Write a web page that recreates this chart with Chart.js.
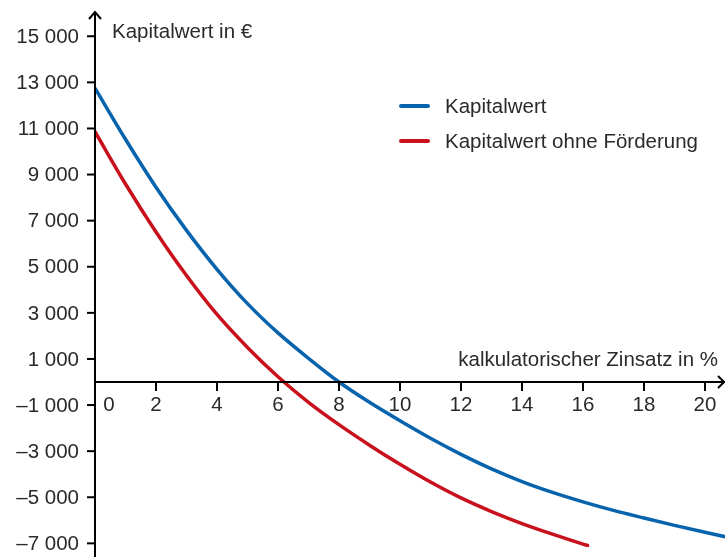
<!DOCTYPE html>
<html>
<head>
<meta charset="utf-8">
<script src="https://cdn.jsdelivr.net/npm/chart.js@4/dist/chart.umd.min.js"></script>
<style>
html,body{margin:0;padding:0;background:#fff;}
#wrap{width:725px;height:557px;position:relative;}
</style>
</head>
<body>
<div id="wrap"><canvas id="c" width="725" height="557"></canvas></div>
<script>
// ---- data ----
const ratesBlue = [0,1,2,3,4,5,6,7,8,9,10,11,12,13,14,15,16,17,18,19,20,20.66];
const kapitalwert = [12750,10530,8450,6580,4890,3400,2130,1030,0,-880,-1680,-2440,-3140,-3770,-4320,-4790,-5200,-5570,-5900,-6220,-6520,-6710];
const ratesRed = [0,1,2,3,4,5,6,7,8,9,10,11,12,13,14,15,16,16.15];
const kapitalwertOhne = [10860,8590,6510,4620,2930,1500,230,-880,-1850,-2740,-3570,-4340,-5030,-5620,-6140,-6600,-7030,-7090];
const xTicks = [2,4,6,8,10,12,14,16,18,20];
const yTicks = [-7000,-5000,-3000,-1000,1000,3000,5000,7000,9000,11000,13000,15000];
const seriesNames = ['Kapitalwert','Kapitalwert ohne Förderung'];
const xTitle = 'kalkulatorischer Zinsatz in %';
const yTitle = 'Kapitalwert in €';

const BLUE = '#0863ad';
const RED = '#c8111c';
const INK = '#2a2a2a';
const FONT = '20.5px "Liberation Sans", Arial, sans-serif';

function fmt(v){
  const a = Math.abs(v);
  let s = String(a);
  if (a >= 1000) s = s.slice(0, s.length-3) + ' ' + s.slice(-3);
  return (v < 0 ? '\u2013' : '') + s;
}

const axesPlugin = {
  id: 'axesPlugin',
  afterDraw(chart){
    const ctx = chart.ctx;
    const xs = chart.scales.x, ys = chart.scales.y;
    const x0 = xs.getPixelForValue(0);
    const y0 = ys.getPixelForValue(0);
    const W = chart.width, H = chart.height;
    ctx.save();
    ctx.strokeStyle = '#000';
    ctx.lineWidth = 2;
    ctx.lineCap = 'butt';
    // y axis
    ctx.beginPath();
    ctx.moveTo(x0, 12); ctx.lineTo(x0, H);
    ctx.stroke();
    ctx.beginPath();
    ctx.moveTo(x0-6, 19); ctx.lineTo(x0, 12); ctx.lineTo(x0+6, 19);
    ctx.stroke();
    // x axis
    ctx.beginPath();
    ctx.moveTo(x0, y0); ctx.lineTo(W, y0);
    ctx.stroke();
    ctx.beginPath();
    ctx.moveTo(W-7, y0-6); ctx.lineTo(W-1, y0); ctx.lineTo(W-7, y0+6);
    ctx.stroke();
    // ticks
    ctx.fillStyle = INK;
    ctx.font = FONT;
    ctx.textBaseline = 'middle';
    ctx.textAlign = 'right';
    yTicks.forEach(v => {
      const py = ys.getPixelForValue(v);
      ctx.beginPath(); ctx.moveTo(x0-8, py); ctx.lineTo(x0, py); ctx.stroke();
      ctx.fillText(fmt(v), x0-16, py+1);
    });
    ctx.textAlign = 'center';
    xTicks.forEach(v => {
      const px = xs.getPixelForValue(v);
      ctx.beginPath(); ctx.moveTo(px, y0); ctx.lineTo(px, y0+9); ctx.stroke();
      ctx.fillText(String(v), px, y0+23);
    });
    ctx.fillText('0', x0+14, y0+23);
    // axis titles
    ctx.textAlign = 'left';
    ctx.fillText(yTitle, x0+17, 32);
    ctx.textAlign = 'right';
    ctx.fillText(xTitle, 718, y0-22);
    // legend
    const leg = [[seriesNames[0], BLUE, 106],[seriesNames[1], RED, 141]];
    ctx.textAlign = 'left';
    leg.forEach(([name,col,y]) => {
      ctx.strokeStyle = col; ctx.lineWidth = 4; ctx.lineCap = 'round';
      ctx.beginPath(); ctx.moveTo(401, y); ctx.lineTo(428, y); ctx.stroke();
      ctx.fillStyle = INK;
      ctx.fillText(name, 445, y+1);
    });
    ctx.restore();
  }
};

new Chart(document.getElementById('c'), {
  type: 'line',
  data: {
    datasets: [
      { label: seriesNames[0], data: ratesBlue.map((r,i)=>({x:r,y:kapitalwert[i]})),
        borderColor: BLUE, borderWidth: 3.5, pointRadius: 0, cubicInterpolationMode: 'monotone', fill: false },
      { label: seriesNames[1], data: ratesRed.map((r,i)=>({x:r,y:kapitalwertOhne[i]})),
        borderColor: RED, borderWidth: 3.5, pointRadius: 0, cubicInterpolationMode: 'monotone', fill: false, borderCapStyle: 'round' }
    ]
  },
  options: {
    responsive: false,
    animation: false,
    layout: { padding: { left: 95, right: 0, top: 0, bottom: 0 } },
    plugins: { legend: { display: false }, tooltip: { enabled: false } },
    scales: {
      x: { type: 'linear', min: 0, max: 20.656, display: false },
      y: { type: 'linear', min: -7592, max: 16573, display: false }
    }
  },
  plugins: [axesPlugin]
});
</script>
</body>
</html>
